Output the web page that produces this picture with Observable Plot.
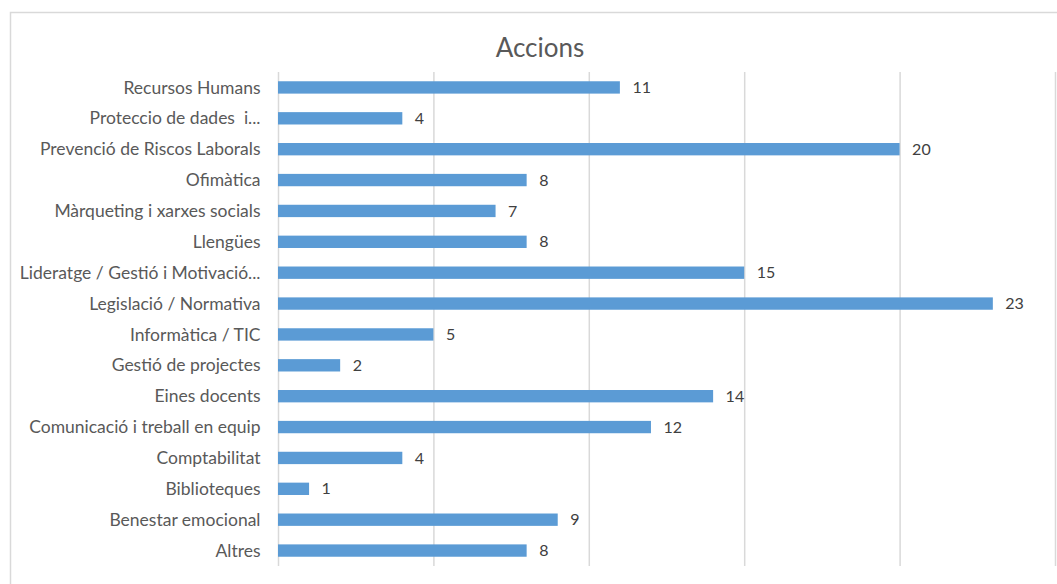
<!DOCTYPE html>
<html>
<head>
<meta charset="utf-8">
<script src="https://cdn.jsdelivr.net/npm/d3@7"></script>
<script src="https://cdn.jsdelivr.net/npm/@observablehq/plot@0.6"></script>
<style>
  html, body { margin: 0; padding: 0; background: #fff; }
  #chart { width: 1057px; height: 584px; overflow: hidden; }
</style>
</head>
<body>
<div id="chart"></div>
<script>
const title = "Accions";
const categories = [
  "Recursos Humans",
  "Proteccio de dades  i...",
  "Prevenció de Riscos Laborals",
  "Ofimàtica",
  "Màrqueting i xarxes socials",
  "Llengües",
  "Lideratge / Gestió i Motivació...",
  "Legislació / Normativa",
  "Informàtica / TIC",
  "Gestió de projectes",
  "Eines docents",
  "Comunicació i treball en equip",
  "Comptabilitat",
  "Biblioteques",
  "Benestar emocional",
  "Altres"
];
const values = [11, 4, 20, 8, 7, 8, 15, 23, 5, 2, 14, 12, 4, 1, 9, 8];
const xTicks = [0, 5, 10, 15, 20, 25];

const data = categories.map((c, i) => ({category: c, value: values[i]}));
const font = "Lato, 'Open Sans', sans-serif";

const chart = Plot.plot({
  width: 1057,
  height: 584,
  marginTop: 72,
  marginBottom: 18,
  marginLeft: 278,
  marginRight: 2,
  style: {fontFamily: font, fontSize: "17.5px", color: "#595959", background: "#fff"},
  x: {domain: [0, 25], axis: null},
  y: {domain: categories, paddingInner: 0.6, paddingOuter: 0.3, round: false, label: null},
  marks: [
    Plot.ruleX(xTicks, {stroke: "#d9d9d9", strokeWidth: 1.5}),
    Plot.barX(data, {x: "value", y: "category", fill: "#5b9bd5"}),
    Plot.text(data, {x: "value", y: "category", text: d => String(d.value), dx: 12, textAnchor: "start", fill: "#404040", fontSize: 16}),
    Plot.axisY({tickSize: 0, tickPadding: 18, fontSize: 17.5, fill: "#595959", label: null})
  ]
});

const svg = d3.select(chart);
svg.append("rect")
  .attr("x", 10.5).attr("y", 12.5)
  .attr("width", 1060).attr("height", 600)
  .attr("fill", "none").attr("stroke", "#d9d9d9").attr("stroke-width", 1.5);
svg.append("text")
  .attr("x", 540).attr("y", 57)
  .attr("text-anchor", "middle")
  .attr("font-family", font)
  .attr("font-size", 26)
  .attr("fill", "#595959")
  .text(title);

document.getElementById("chart").appendChild(chart);
</script>
</body>
</html>
